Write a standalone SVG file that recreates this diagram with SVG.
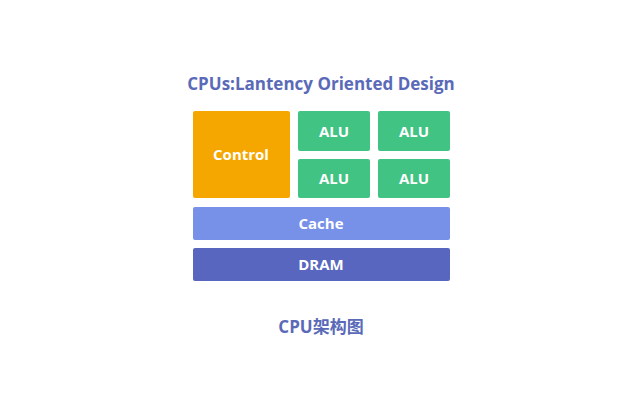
<svg xmlns="http://www.w3.org/2000/svg" width="640" height="401" viewBox="0 0 640 401">
<style>
text{font-family:"Open Sans","Noto Sans","Noto Sans CJK SC",sans-serif;font-weight:bold;text-anchor:middle;dominant-baseline:central}
.w{fill:#fff;font-size:15px}
.alu{fill:#40c383}
.t{fill:#5a6ab8}
</style>
<rect width="640" height="401" fill="#fff"/>
<text class="t" x="321" y="83" font-size="17">CPUs:Lantency Oriented Design</text>
<g id="control"><rect x="193" y="111" width="97" height="87" rx="2" fill="#f5a700"/><text class="w" x="241" y="154">Control</text></g>
<g id="alu1"><rect class="alu" x="298" y="111" width="72" height="40" rx="2"/><text class="w" x="334" y="131">ALU</text></g>
<g id="alu2"><rect class="alu" x="378" y="111" width="72" height="40" rx="2"/><text class="w" x="414" y="131">ALU</text></g>
<g id="alu3"><rect class="alu" x="298" y="159" width="72" height="39" rx="2"/><text class="w" x="334" y="178">ALU</text></g>
<g id="alu4"><rect class="alu" x="378" y="159" width="72" height="39" rx="2"/><text class="w" x="414" y="178">ALU</text></g>
<g id="cache"><rect x="193" y="207" width="257" height="33" rx="2" fill="#7790e8"/><text class="w" x="321" y="223">Cache</text></g>
<g id="dram"><rect x="193" y="248" width="257" height="33" rx="2" fill="#5866c0"/><text class="w" x="321" y="264">DRAM</text></g>
<g id="connectors"/>
<text class="t" x="321" y="326" font-size="17">CPU架构图</text>
</svg>
